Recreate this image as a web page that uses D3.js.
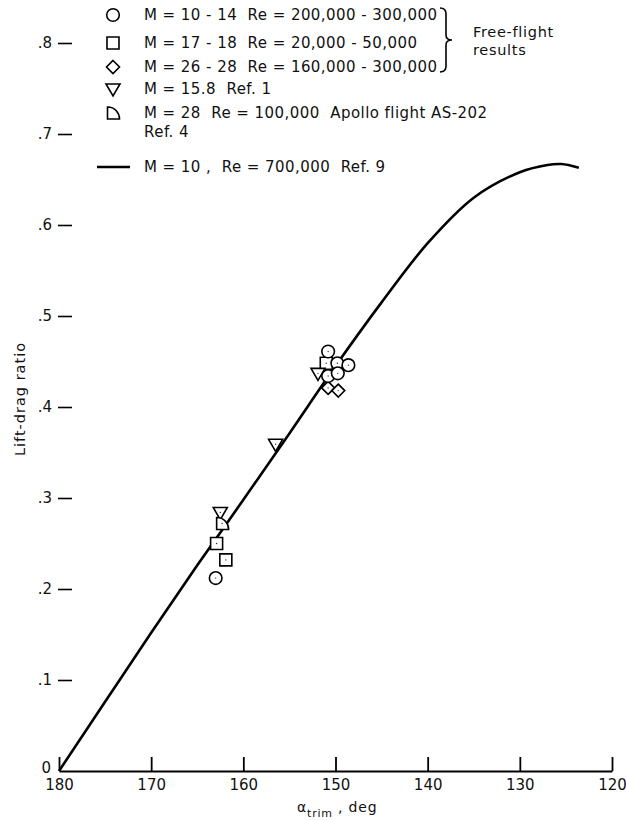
<!DOCTYPE html>
<html lang="en">
<head>
    <meta charset="UTF-8">
    <title>Lift-drag ratio vs trim angle</title>
    <script src="https://cdn.jsdelivr.net/npm/d3@7"></script>
    <style>
        body { margin: 0; background: #fff; }
        text { font-family: "DejaVu Sans", sans-serif; fill: #111; }
    </style>
</head>
<body>
<div id="chart"></div>

<script>
    // curve M=10, Re=700,000 (Ref. 9)
    var curveDeg = [180, 175, 170, 165, 160, 155, 150, 145, 140, 135, 130, 127, 125.5, 123.6];
    var curveLD  = [0, 0.076, 0.152, 0.226, 0.298, 0.371, 0.445, 0.515, 0.580, 0.630, 0.658, 0.666, 0.667, 0.663];

    // free-flight results and references
    var circleDeg  = [150.8, 149.8, 148.6, 150.8, 149.75, 163.0];
    var circleLD   = [0.461, 0.448, 0.446, 0.434, 0.437, 0.212];
    var squareDeg  = [151.0, 162.9, 161.9];
    var squareLD   = [0.448, 0.250, 0.232];
    var diamondDeg = [150.8, 149.7];
    var diamondLD  = [0.421, 0.418];
    var triDeg     = [151.9, 156.5, 162.5];
    var triLD      = [0.437, 0.359, 0.284];
    var apolloDeg  = [162.3];
    var apolloLD   = [0.272];

    var xTicks = [180, 170, 160, 150, 140, 130, 120];
    var yTicks = [0, 0.1, 0.2, 0.3, 0.4, 0.5, 0.6, 0.7, 0.8];

    var legendRows = [
        {shape: "circle",  label: "M = 10 - 14  Re = 200,000 - 300,000"},
        {shape: "square",  label: "M = 17 - 18  Re = 20,000 - 50,000"},
        {shape: "diamond", label: "M = 26 - 28  Re = 160,000 - 300,000"},
        {shape: "tri",     label: "M = 15.8  Ref. 1"},
        {shape: "apollo",  label: "M = 28  Re = 100,000  Apollo flight AS-202"}
    ];

    var width = 626, height = 821;

    var svg = d3.select("#chart").append("svg")
        .attr("width", width)
        .attr("height", height);

    var x = d3.scaleLinear().domain([180, 120]).range([59, 612]);
    var y = d3.scaleLinear().domain([0, 0.8]).range([771, 43]);

    // x axis
    var xAxis = svg.append("g")
        .attr("transform", "translate(0," + y(0) + ")")
        .call(d3.axisBottom(x).tickValues(xTicks).tickSizeInner(-14).tickSizeOuter(0).tickPadding(8));
    xAxis.select(".domain").attr("stroke-width", 2.2);
    xAxis.selectAll(".tick line").attr("stroke-width", 1.8);
    xAxis.selectAll("text").style("font-size", "15px");

    // y axis (ticks only)
    var yAxis = svg.append("g")
        .attr("transform", "translate(72,0)")
        .call(d3.axisLeft(y).tickValues(yTicks).tickSize(14).tickPadding(6)
            .tickFormat(function(d) { return d === 0 ? "0" : d3.format(".1f")(d).replace(/^0/, ""); }));
    yAxis.select(".domain").remove();
    yAxis.selectAll(".tick line").attr("stroke-width", 1.6)
        .filter(function(d) { return d === 0; }).remove();
    yAxis.selectAll("text").style("font-size", "15px");
    yAxis.selectAll(".tick").filter(function(d) { return d === 0; })
        .select("text").attr("x", -21).attr("y", -3);

    // axis titles
    svg.append("text")
        .attr("transform", "translate(25,399) rotate(-90)")
        .attr("text-anchor", "middle")
        .style("font-size", "14.5px")
        .style("letter-spacing", "1px")
        .text("Lift-drag ratio");

    var xt = svg.append("text")
        .attr("x", 297).attr("y", 812)
        .style("font-size", "14px")
        .style("letter-spacing", "0.8px");
    xt.append("tspan").text("α");
    xt.append("tspan").attr("dy", 5).style("font-size", "11px").text("trim");
    xt.append("tspan").attr("dy", -5).text(" , deg");

    // curve
    var line = d3.line()
        .x(function(d, i) { return x(curveDeg[i]); })
        .y(function(d, i) { return y(curveLD[i]); })
        .curve(d3.curveCatmullRom);

    svg.append("path")
        .datum(curveDeg)
        .attr("d", line)
        .attr("fill", "none")
        .attr("stroke", "#000")
        .attr("stroke-width", 2.6);

    // marker shapes
    function shapePath(s) {
        if (s === "square")  return "M-6,-6H6V6H-6Z";
        if (s === "diamond") return "M0,-6.5L6.5,0L0,6.5L-6.5,0Z";
        if (s === "tri")     return "M-7,-5H7L0,7Z";
        if (s === "apollo")  return "M-5.5,-6V6H6.5C6.5,0 2,-6 -5.5,-6Z";
        return null;
    }

    function drawMarker(g, s) {
        if (s === "circle") {
            g.append("circle").attr("r", 6.3);
        } else {
            g.append("path").attr("d", shapePath(s));
        }
        g.selectAll("circle, path")
            .attr("fill", "#fff")
            .attr("stroke", "#000")
            .attr("stroke-width", 1.6);
    }

    function plotSeries(degs, lds, s) {
        degs.forEach(function(d, i) {
            var g = svg.append("g")
                .attr("transform", "translate(" + x(d) + "," + y(lds[i]) + ")");
            drawMarker(g, s);
            g.append("circle").attr("r", 0.7).attr("fill", "#333");
        });
    }

    plotSeries(squareDeg, squareLD, "square");
    plotSeries(diamondDeg, diamondLD, "diamond");
    plotSeries(triDeg, triLD, "tri");
    plotSeries(apolloDeg, apolloLD, "apollo");
    plotSeries(circleDeg, circleLD, "circle");

    // legend
    var rowY = [15, 43, 67, 89, 113];
    legendRows.forEach(function(r, i) {
        var g = svg.append("g").attr("transform", "translate(113," + rowY[i] + ")");
        drawMarker(g, r.shape);
        svg.append("text")
            .attr("x", 144).attr("y", rowY[i])
            .attr("dy", "0.36em")
            .style("font-size", "15px")
            .style("letter-spacing", "0.45px")
            .style("white-space", "pre")
            .text(r.label);
    });
    svg.append("text")
        .attr("x", 144).attr("y", 132)
        .attr("dy", "0.36em")
        .style("font-size", "15px")
        .style("letter-spacing", "0.45px")
        .text("Ref. 4");

    svg.append("line")
        .attr("x1", 97).attr("x2", 130)
        .attr("y1", 167).attr("y2", 167)
        .attr("stroke", "#000").attr("stroke-width", 2.6);
    svg.append("text")
        .attr("x", 144).attr("y", 167)
        .attr("dy", "0.36em")
        .style("font-size", "15px")
        .style("letter-spacing", "0.45px")
        .style("white-space", "pre")
        .text("M = 10 ,  Re = 700,000  Ref. 9");

    // brace for free-flight group
    svg.append("path")
        .attr("d", "M440,8 Q446,8 446,14 L446,35 Q446,40 452,40 Q446,40 446,45 L446,66 Q446,72 440,72")
        .attr("fill", "none")
        .attr("stroke", "#000")
        .attr("stroke-width", 1.6);
    svg.append("text").attr("x", 473).attr("y", 37).style("font-size", "14.5px").style("letter-spacing", "0.7px").text("Free-flight");
    svg.append("text").attr("x", 473).attr("y", 55).style("font-size", "14.5px").style("letter-spacing", "0.7px").text("results");
</script>
</body>
</html>
